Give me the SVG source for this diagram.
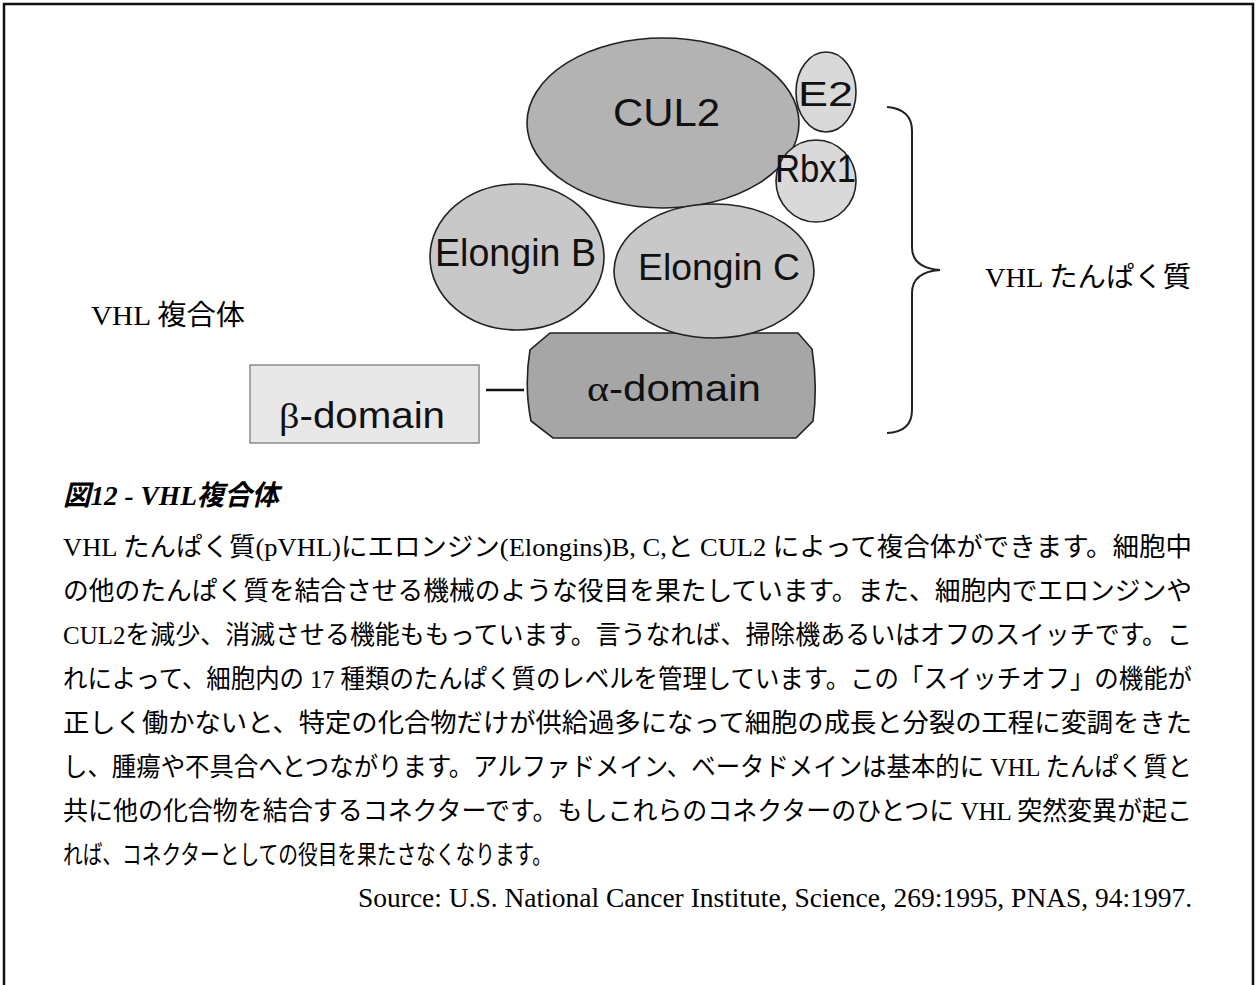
<svg xmlns="http://www.w3.org/2000/svg" width="1258" height="985" viewBox="0 0 1258 985">
<style>
.sh{stroke:#222;stroke-width:1.6}
.lbl{font-family:"Liberation Sans",Arial,sans-serif;fill:#111}
.gr{font-family:"Liberation Serif","Times New Roman",serif}
.jp{font-family:"Liberation Serif","Noto Sans CJK JP",serif;font-size:26px;fill:#000}
.side{font-family:"Liberation Serif","Noto Sans CJK JP",serif;font-size:28px;fill:#000}
</style>
<rect x="0" y="0" width="1258" height="985" fill="#fff"/>
<rect id="border" x="4" y="4" width="1249" height="1000" fill="none" stroke="#111" stroke-width="2.5"/>

<g id="connectors">
  <line x1="486" y1="390" x2="524" y2="390" stroke="#111" stroke-width="2.5"/>
</g>

<g id="beta-domain">
  <rect x="250" y="365" width="229" height="78" fill="#e8e8e8" stroke="#8a8a8a" stroke-width="1.5"/>
  <text class="lbl" x="279" y="428" font-size="36" textLength="166" lengthAdjust="spacingAndGlyphs"><tspan class="gr">β</tspan>-domain</text>
</g>

<g id="alpha-domain">
  <path class="sh" d="M550,333 L798,333 L812,349 Q818,386 813,421 L796,438 L553,438 L531,421 Q524,386 530,350 Z" fill="#a6a6a6"/>
  <text class="lbl" x="587" y="401" font-size="36" textLength="174" lengthAdjust="spacingAndGlyphs"><tspan class="gr">α</tspan>-domain</text>
</g>

<g id="cul2">
  <ellipse class="sh" cx="663" cy="123" rx="136" ry="85" fill="#b3b3b3"/>
  <text class="lbl" x="613" y="126" font-size="39" textLength="107" lengthAdjust="spacingAndGlyphs">CUL2</text>
</g>

<g id="e2">
  <ellipse class="sh" cx="826" cy="92" rx="30" ry="40" fill="#d9d9d9"/>
  <text class="lbl" x="798" y="106" font-size="35" textLength="55" lengthAdjust="spacingAndGlyphs">E2</text>
</g>

<g id="rbx1">
  <ellipse class="sh" cx="816" cy="181" rx="40" ry="41" fill="#d9d9d9"/>
  <text class="lbl" x="775" y="182" font-size="39" textLength="81" lengthAdjust="spacingAndGlyphs">Rbx1</text>
</g>

<g id="elongin-b">
  <ellipse class="sh" cx="517" cy="257" rx="87" ry="73" fill="#c8c8c8"/>
  <text class="lbl" x="435" y="266" font-size="38" textLength="161" lengthAdjust="spacingAndGlyphs">Elongin B</text>
</g>

<g id="elongin-c">
  <ellipse class="sh" cx="714" cy="271" rx="100" ry="67" fill="#c8c8c8"/>
  <text class="lbl" x="638" y="280" font-size="37" textLength="162" lengthAdjust="spacingAndGlyphs">Elongin C</text>
</g>

<g id="brace">
  <path d="M887,107 Q912,109 912,131 L912,247 Q912,268 940,270 Q912,272 912,293 L912,410 Q912,432 887,433" fill="none" stroke="#222" stroke-width="2"/>
</g>

<g id="label-complex">
  <text class="side" x="91" y="325" textLength="154" lengthAdjust="spacingAndGlyphs">VHL 複合体</text>
</g>
<g id="label-protein">
  <text class="side" x="985" y="287" textLength="206" lengthAdjust="spacingAndGlyphs">VHL たんぱく質</text>
</g>

<g id="caption">
  <text class="side" x="63" y="505" font-weight="bold" font-style="italic" textLength="216" lengthAdjust="spacingAndGlyphs">図12 - VHL複合体</text>
</g>

<g id="body">
  <text class="jp" x="63" y="556" textLength="1129" lengthAdjust="spacingAndGlyphs">VHL たんぱく質(pVHL)にエロンジン(Elongins)B, C,と CUL2 によって複合体ができます。細胞中</text>
  <text class="jp" x="63" y="600" textLength="1129" lengthAdjust="spacingAndGlyphs">の他のたんぱく質を結合させる機械のような役目を果たしています。また、細胞内でエロンジンや</text>
  <text class="jp" x="63" y="644" textLength="1129" lengthAdjust="spacingAndGlyphs">CUL2を減少、消滅させる機能ももっています。言うなれば、掃除機あるいはオフのスイッチです。こ</text>
  <text class="jp" x="63" y="688" textLength="1129" lengthAdjust="spacingAndGlyphs">れによって、細胞内の 17 種類のたんぱく質のレベルを管理しています。この「スイッチオフ」の機能が</text>
  <text class="jp" x="63" y="732" textLength="1129" lengthAdjust="spacingAndGlyphs">正しく働かないと、特定の化合物だけが供給過多になって細胞の成長と分裂の工程に変調をきた</text>
  <text class="jp" x="63" y="776" textLength="1129" lengthAdjust="spacingAndGlyphs">し、腫瘍や不具合へとつながります。アルファドメイン、ベータドメインは基本的に VHL たんぱく質と</text>
  <text class="jp" x="63" y="820" textLength="1129" lengthAdjust="spacingAndGlyphs">共に他の化合物を結合するコネクターです。もしこれらのコネクターのひとつに VHL 突然変異が起こ</text>
  <text class="jp" x="63" y="864" textLength="489" lengthAdjust="spacingAndGlyphs">れば、コネクターとしての役目を果たさなくなります。</text>
  <text class="side" x="1192" y="907" text-anchor="end" textLength="834" lengthAdjust="spacingAndGlyphs">Source: U.S. National Cancer Institute, Science, 269:1995, PNAS, 94:1997.</text>
</g>
</svg>
